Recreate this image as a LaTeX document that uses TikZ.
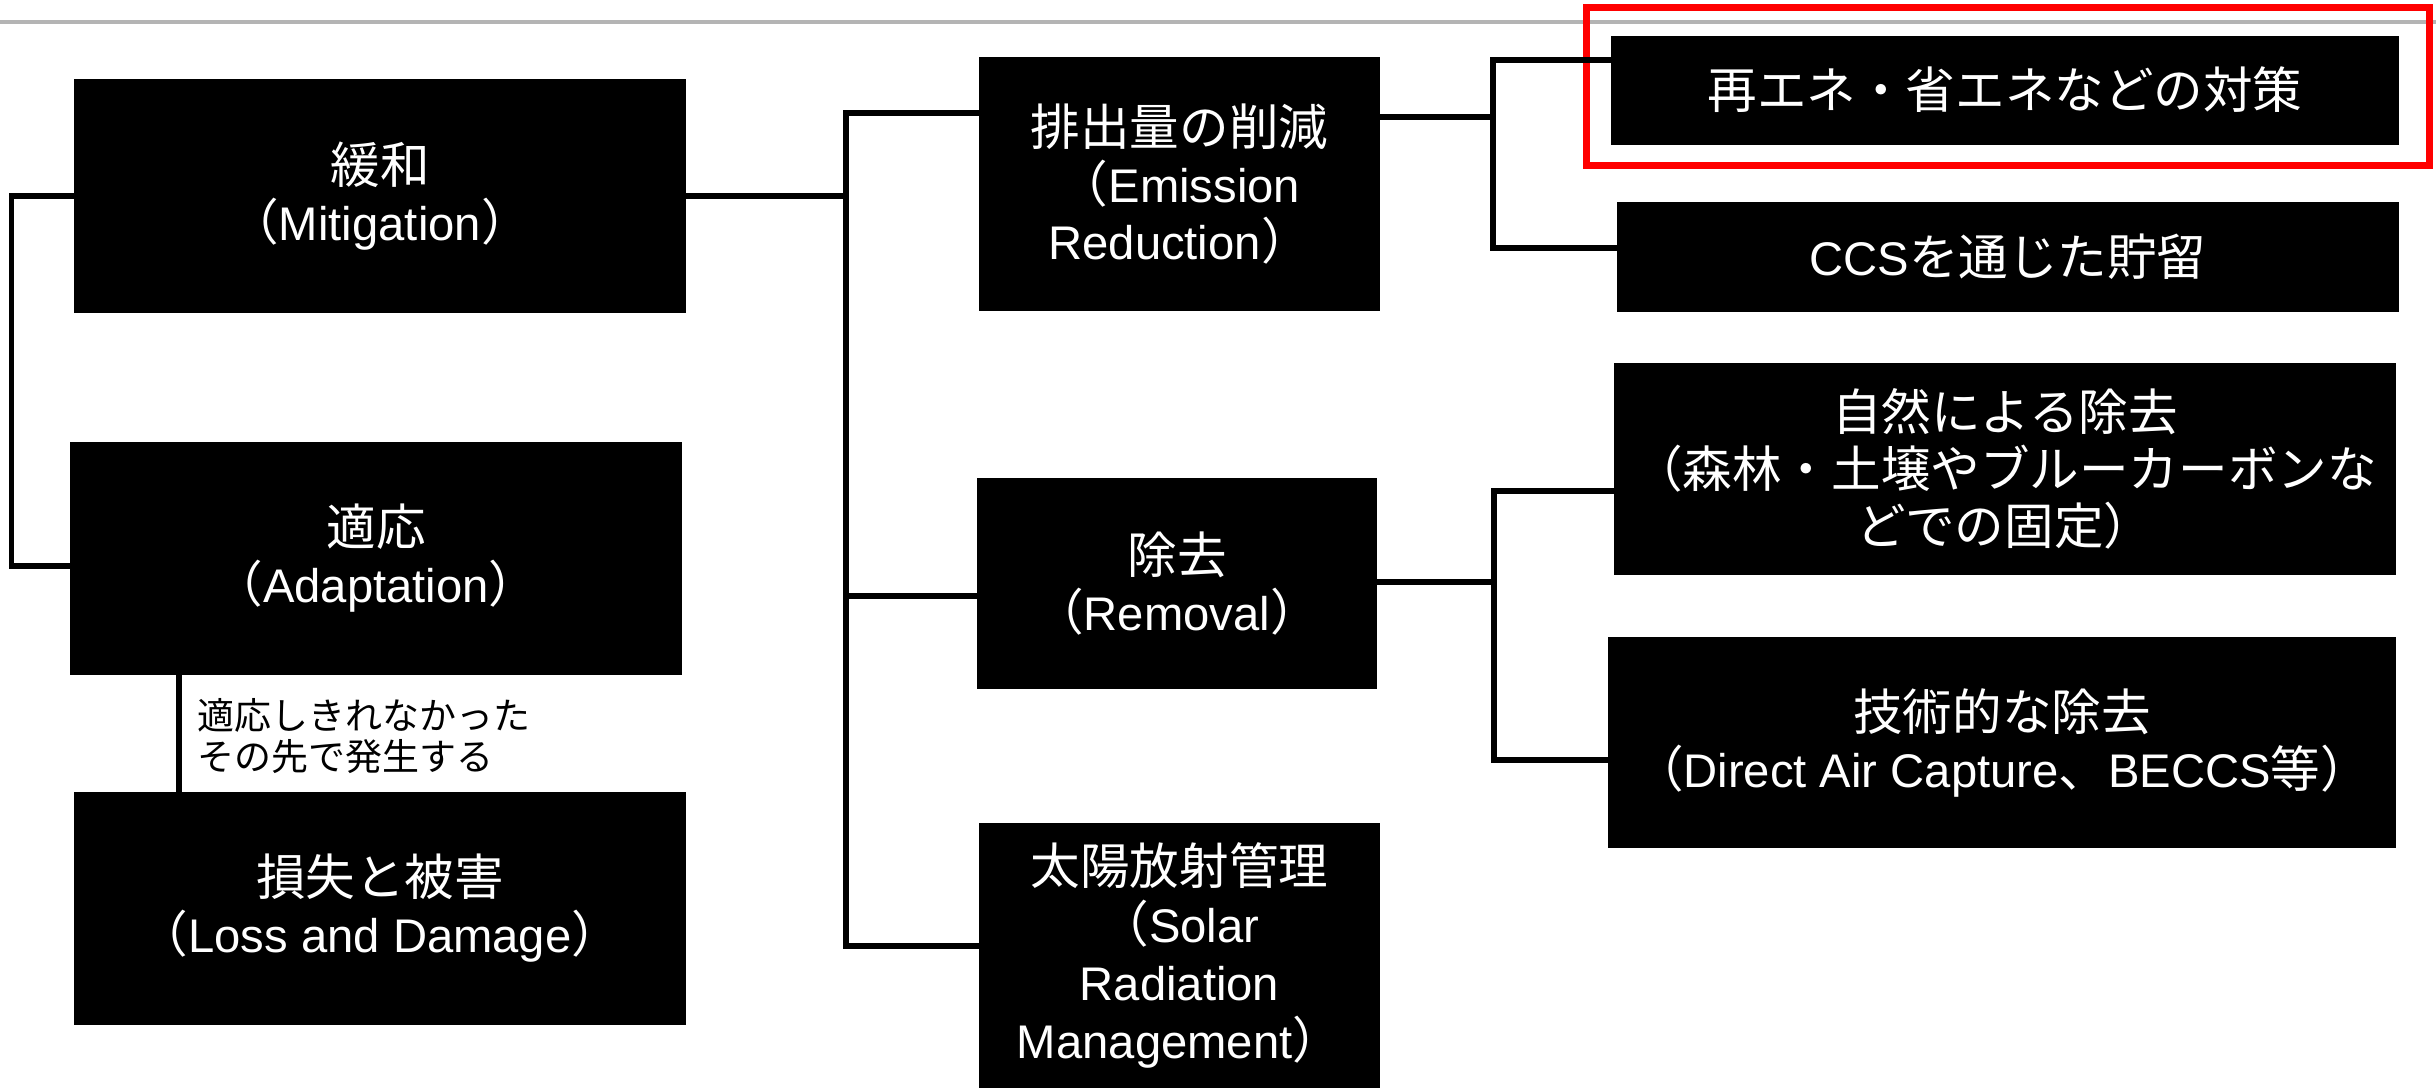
\documentclass[tikz,border=0pt]{standalone}
\usepackage{fontspec}
\setmainfont{Liberation Sans}
\newfontfamily\jpfont[Scale=1.05]{Noto Sans CJK JP}
\newcommand{\jpt}[1]{{\jpfont #1}}
\usetikzlibrary{calc}
\definecolor{topgray}{RGB}{180,180,180}
\begin{document}
\begin{tikzpicture}[x=0.5pt,y=-0.5pt,
  box/.style={fill=black, text=white, inner sep=0pt, align=center,
    font=\fontsize{23.6}{28.5}\selectfont},
  conn/.style={line width=2.6pt, draw=black},
  hilite/.style={draw=red, line width=3.5pt, inner sep=0pt}]
\useasboundingbox (0,0) rectangle (2436,1088);
% top gray rule
\draw[topgray, line width=1.6pt] (0,22) -- (2436,22);

% boxes
\node[box, minimum width=306pt, minimum height=117pt] (mit) at (380,196)
  {\jpt{緩和}\\\jpt{（}Mitigation\jpt{）}};
\node[box, minimum width=306pt, minimum height=116.5pt] (ada) at (376,558.5)
  {\jpt{適応}\\\jpt{（}Adaptation\jpt{）}};
\node[box, minimum width=306pt, minimum height=116.5pt] (los) at (380,908.5)
  {\jpt{損失と被害}\\\jpt{（}Loss and Damage\jpt{）}};
\node[box, minimum width=200.5pt, minimum height=127pt] (emi) at (1179.5,184)
  {\jpt{排出量の削減}\\\jpt{（}Emission\\Reduction\jpt{）}};
\node[box, minimum width=200pt, minimum height=105.5pt] (rem) at (1177,583.5)
  {\jpt{除去}\\\jpt{（}Removal\jpt{）}};
\node[box, minimum width=200.5pt, minimum height=132.5pt,
  font=\fontsize{23.6}{29}\selectfont] (sol) at (1179.5,955.5)
  {\jpt{太陽放射管理}\\\jpt{（}Solar\\Radiation\\Management\jpt{）}};
\node[box, minimum width=394pt, minimum height=54.5pt] (ren) at (2005,90)
  {\jpt{再エネ・省エネなどの対策}};
\node[box, minimum width=391pt, minimum height=55pt] (ccs) at (2008,257)
  {CCS\jpt{を通じた貯留}};
\node[box, minimum width=391pt, minimum height=106pt] (nat) at (2005,469)
  {\jpt{自然による除去}\\\jpt{（森林・土壌やブルーカーボンな}\\\jpt{どでの固定）}};
\node[box, minimum width=394pt, minimum height=105.5pt] (tec) at (2002,742.5)
  {\jpt{技術的な除去}\\\jpt{（}Direct Air Capture\jpt{、}BECCS\jpt{等）}};

% highlight
\node[hilite, minimum width=421.5pt, minimum height=79pt] (hl) at (2008,86) {};

% label
\node[anchor=west, align=left, inner sep=0pt,
  font=\jpfont\fontsize{17.6}{20.5}\selectfont] (lbl) at (197,736)
  {適応しきれなかった\\その先で発生する};

% left connector Mitigation - Adaptation
\coordinate (ada-in) at ($(ada.west)+(0,7.5)$);
\draw[conn] (mit.west) -- ++(-62,0) |- (ada-in);

% Adaptation - Loss
\coordinate (al) at (179,0);
\draw[conn] (ada.south -| al) -- (los.north -| al);

% main bus
\coordinate (bus) at (846,0);
\coordinate (emi-in) at ($(emi.west)+(0,-71)$);
\coordinate (rem-in) at ($(rem.west)+(0,12.5)$);
\coordinate (sol-in) at ($(sol.west)+(0,-9.5)$);
\draw[conn] (mit.east) -- (mit.east -| bus);
\draw[conn] (emi-in) -- (emi-in -| bus) -- (sol-in -| bus) -- (sol-in);
\draw[conn] (rem-in -| bus) -- (rem-in);

% emission sub-bus
\coordinate (eb) at (1493,0);
\coordinate (emi-out) at ($(emi.east)+(0,-67)$);
\coordinate (ren-in) at ($(ren.west)+(0,-30)$);
\coordinate (ccs-in) at ($(ccs.west)+(0,-9)$);
\draw[conn] (emi-out) -- (emi-out -| eb);
\draw[conn] (ren-in) -- (ren-in -| eb) -- (ccs-in -| eb) -- (ccs-in);

% removal sub-bus
\coordinate (rb) at (1494,0);
\coordinate (rem-out) at ($(rem.east)+(0,-1.5)$);
\coordinate (nat-in) at ($(nat.west)+(0,22)$);
\coordinate (tec-in) at ($(tec.west)+(0,17.5)$);
\draw[conn] (rem-out) -- (rem-out -| rb);
\draw[conn] (nat-in) -- (nat-in -| rb) -- (tec-in -| rb) -- (tec-in);
\end{tikzpicture}
\end{document}
